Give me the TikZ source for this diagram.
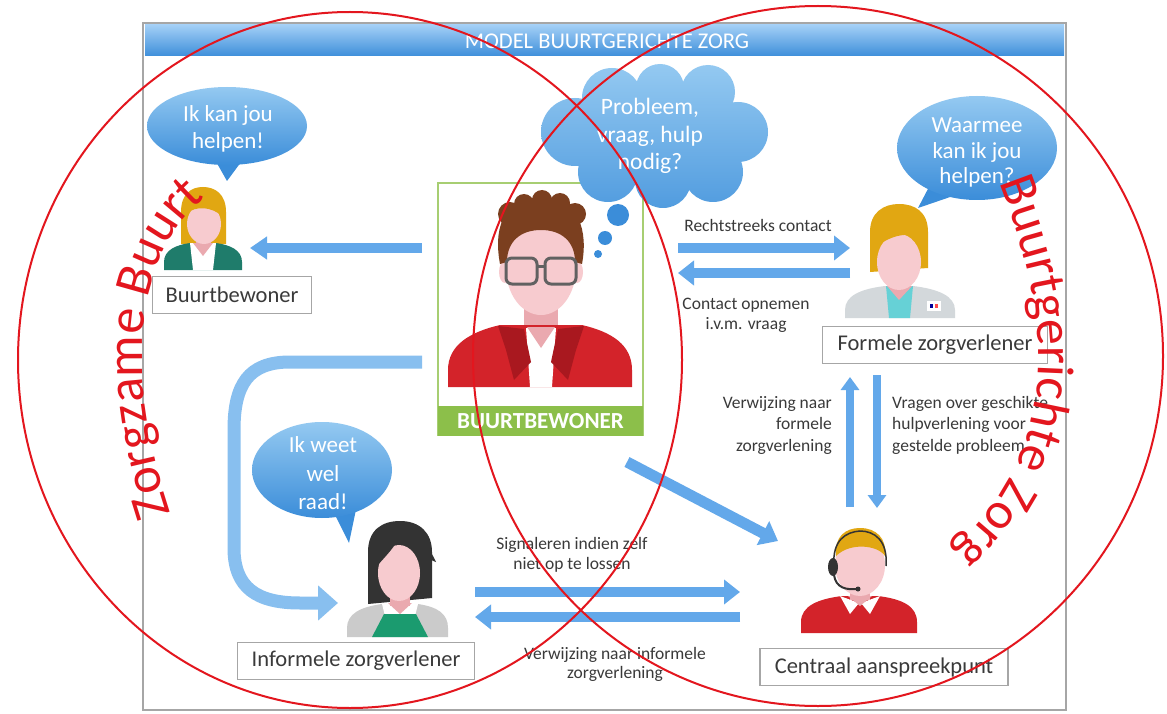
\documentclass[tikz,border=0pt]{standalone}
\usepackage{fontspec}
\setmainfont{Carlito}
\usetikzlibrary{arrows.meta,decorations.text}

\definecolor{framegray}{HTML}{A6A6A6}
\definecolor{headtop}{HTML}{A3CFF6}
\definecolor{headbot}{HTML}{3E8FDA}
\definecolor{arrowblue}{HTML}{63A8EA}
\definecolor{arrowlight}{HTML}{88BFEF}
\definecolor{bubtop}{HTML}{94C9F1}
\definecolor{bubbot}{HTML}{3B8DD9}
\definecolor{boxgreen}{HTML}{8CBF4A}
\definecolor{boxline}{HTML}{A7CE72}
\definecolor{circred}{HTML}{E3161E}
\definecolor{skin}{HTML}{F7CBCF}
\definecolor{necktone}{HTML}{EAA9AF}
\definecolor{hairgold}{HTML}{E1A712}
\definecolor{hairbrown}{HTML}{7B3F1F}
\definecolor{hairdark}{HTML}{333333}
\definecolor{jacketred}{HTML}{D3232A}
\definecolor{lapelred}{HTML}{A9181F}
\definecolor{cardteal}{HTML}{1F7C6B}
\definecolor{coatgray}{HTML}{D3D8DB}
\definecolor{shirtcyan}{HTML}{66D1D6}
\definecolor{apron}{HTML}{1B9B6F}
\definecolor{cardigan}{HTML}{CBCBCB}
\definecolor{txtgray}{HTML}{3A3A3A}

\tikzset{
  labelbox/.style={draw=framegray, line width=1.2pt, fill=white, minimum height=37pt,
    inner xsep=6pt, font=\fontsize{22.5}{27}\selectfont, text=txtgray},
  note/.style={font=\fontsize{17.5}{21.5}\selectfont, text=txtgray, align=center, inner sep=0pt},
  saytext/.style={font=\fontsize{23}{27}\selectfont, text=white, align=center, inner sep=0pt},
  flow/.style={draw=arrowblue, line width=10pt, -{Triangle[length=16pt,width=24pt]}},
  thinflow/.style={draw=arrowblue, line width=8pt, -{Triangle[length=13pt,width=18pt]}},
  ring/.style={draw=circred, line width=2pt},
  bubble/.style={top color=bubtop, bottom color=bubbot},
}

\begin{document}
\begin{tikzpicture}[x=1pt, y=-1pt]
\useasboundingbox (0,0) rectangle (1167,714);
\fill[white] (0,0) rectangle (1167,714);

% frame and header
\draw[framegray, line width=1.5pt] (143,23) rectangle (1066,710);
\shade[top color=headtop, bottom color=headbot] (145,25) rectangle (1064,56);
\node[text=white, font=\fontsize{22.5}{27}\selectfont] (title) at (607,41) {MODEL BUURTGERICHTE ZORG};

% central resident box
\node[draw=boxline, line width=1.5pt, minimum width=205pt, minimum height=252pt, inner sep=0pt] (hub) at (540.5,309) {};
\node[fill=boxgreen, minimum width=205pt, minimum height=30pt, inner sep=0pt, text=white,
  font=\fontsize{23}{27}\selectfont\bfseries] (hubname) at (540.5,421) {BUURTBEWONER};

% label boxes
\node[labelbox, minimum width=159pt] (neighbour) at (232,295) {Buurtbewoner};
\node[labelbox, minimum width=225pt] (formal) at (935,345) {Formele zorgverlener};
\node[labelbox, minimum width=237pt] (informal) at (356,661) {Informele zorgverlener};
\node[labelbox, minimum width=248pt] (central) at (884,667) {Centraal aanspreekpunt};

% connector labels
\node[note] (lbl1) at (758,225) {Rechtstreeks contact};
\node[note, font=\fontsize{17.5}{20}\selectfont] (lbl2) at (746,315) {Contact opnemen\\i.v.m. vraag};
\node[note, align=right, anchor=east] (lbl3) at (832,425) {Verwijzing naar\\formele\\zorgverlening};
\node[note, align=left, anchor=west] (lbl4) at (892,425) {Vragen over geschikte\\hulpverlening voor\\gestelde probleem};
\node[note, font=\fontsize{17.5}{20}\selectfont] (lbl5) at (572,555) {Signaleren indien zelf\\niet op te lossen};
\node[note, font=\fontsize{17.5}{19}\selectfont] (lbl6) at (615,664) {Verwijzing naar informele\\zorgverlening};

% connector end points
\coordinate (a1s) at (422,248);  \coordinate (a1e) at (250,248);
\coordinate (a2s) at (678,248);  \coordinate (a2e) at (850,248);
\coordinate (a3s) at (850,273);  \coordinate (a3e) at (678,273);
\coordinate (a4s) at (850,507);  \coordinate (a4e) at (850,377);
\coordinate (a5s) at (877,375);  \coordinate (a5e) at (877,508);
\coordinate (a6s) at (627,462);  \coordinate (a6e) at (778,541);
\coordinate (a7s) at (475,592);  \coordinate (a7e) at (740,592);
\coordinate (a8s) at (740,617);  \coordinate (a8e) at (475,617);
\coordinate (a9s) at (422,362);  \coordinate (a9e) at (338,603);

\draw[flow, line width=10pt, -{Triangle[length=17pt,width=22pt]}] (a1s) -- (a1e);
\draw[flow] (a2s) -- (a2e);
\draw[flow] (a3s) -- (a3e);
\draw[thinflow] (a4s) -- (a4e);
\draw[thinflow] (a5s) -- (a5e);
\draw[flow, line width=11pt, -{Triangle[length=17pt,width=26pt]}] (a6s) -- (a6e);
\draw[flow] (a7s) -- (a7e);
\draw[flow] (a8s) -- (a8e);
\draw[draw=arrowlight, line width=13pt, -{Triangle[length=20pt,width=34pt]}]
  (a9s) -- (290,362) .. controls (248,362) and (234,385) .. (234,430)
  -- (234,548) .. controls (234,588) and (257,603) .. (300,603) -- (a9e);

% neighbour figure
\fill[hairgold] (181,244) -- (181,212) .. controls (181,194) and (191,187) .. (203,187)
  .. controls (215,187) and (226,194) .. (226,212) -- (226,244) -- cycle;
\fill[cardteal] (164,270) -- (164,262) .. controls (164,250) and (176,245) .. (190,243)
  -- (216,243) .. controls (230,245) and (242,250) .. (242,262) -- (242,270) -- cycle;
\fill[white] (190,243) -- (216,243) -- (213,270) -- (193,270) -- cycle;
\fill[necktone] (196,230) rectangle (211,245);
\fill[necktone] (193,243) -- (213,243) -- (203,256) -- cycle;
\fill[skin] (204,224) ellipse [x radius=17, y radius=20];
\fill[hairgold] (186,214) .. controls (186,199) and (196,194) .. (206,195)
  .. controls (215,196) and (222,203) .. (222,216) .. controls (212,207) and (196,205) .. (186,214) -- cycle;

% formal carer figure
\fill[hairgold] (870,272) -- (870,232) .. controls (870,212) and (884,204) .. (899,204)
  .. controls (915,204) and (928,212) .. (928,232) -- (928,268) -- cycle;
\fill[coatgray] (845,318) -- (845,310) .. controls (845,296) and (860,289) .. (885,286)
  -- (913,286) .. controls (938,289) and (955,296) .. (955,310) -- (955,318) -- cycle;
\fill[shirtcyan] (886,286) -- (913,286) -- (910,318) -- (889,318) -- cycle;
\fill[necktone] (890,270) rectangle (909,290);
\fill[necktone] (887,286) -- (912,286) -- (899,300) -- cycle;
\fill[skin] (899,262) ellipse [x radius=22, y radius=28];
\fill[hairgold] (877,246) .. controls (877,222) and (890,214) .. (902,214)
  .. controls (914,214) and (922,224) .. (922,240) .. controls (912,232) and (895,233) .. (877,246) -- cycle;
\fill[white] (927,301) rectangle (941,311);
\fill[blue!60!black] (930,304) rectangle (933,308);
\fill[red!70] (935,304) rectangle (938,308);

% resident figure
\fill[skin] (505,272) ellipse [x radius=6, y radius=11];
\fill[skin] (577,272) ellipse [x radius=6, y radius=11];
\fill[necktone] (524,298) rectangle (558,335);
\fill[jacketred] (448,387) -- (448,370) .. controls (448,345) and (470,332) .. (500,325)
  -- (582,325) .. controls (612,332) and (632,345) .. (632,370) -- (632,387) -- cycle;
\fill[white] (526,328) -- (556,328) -- (552,387) -- (530,387) -- cycle;
\fill[necktone] (527,327) -- (555,327) -- (541,348) -- cycle;
\fill[lapelred] (498,326) -- (524,329) -- (531,362) -- (514,380) -- (506,350) -- cycle;
\fill[lapelred] (584,326) -- (558,329) -- (551,362) -- (568,380) -- (576,350) -- cycle;
\fill[skin] (541,268) ellipse [x radius=35, y radius=47];
\fill[hairbrown] (500,264) .. controls (494,232) and (500,200) .. (540,197)
  .. controls (580,197) and (588,232) .. (582,264) -- (575,262)
  .. controls (575,242) and (562,230) .. (541,230) .. controls (520,230) and (507,242) .. (507,262) -- cycle;
\fill[hairbrown] (510,214) circle[radius=12] (524,204) circle[radius=10] (542,200) circle[radius=10]
  (560,203) circle[radius=10] (575,214) circle[radius=11];
\draw[txtgray!80, line width=3pt, rounded corners=6pt] (506,258) rectangle (537,284)
  (545,258) rectangle (576,284);
\draw[txtgray!80, line width=3pt] (537,266) -- (545,266);

% informal carer figure
\fill[hairdark] (368,604) -- (368,552) .. controls (368,530) and (382,521) .. (400,521)
  .. controls (420,521) and (432,533) .. (432,552) -- (432,598) -- cycle;
\fill[cardigan] (347,637) -- (347,628) .. controls (347,614) and (360,607) .. (382,604)
  -- (418,604) .. controls (438,607) and (448,614) .. (448,628) -- (448,637) -- cycle;
\fill[white] (382,604) -- (418,604) -- (414,620) -- (386,620) -- cycle;
\fill[apron] (384,614) -- (416,614) -- (428,637) -- (372,637) -- cycle;
\fill[necktone] (390,590) rectangle (410,606);
\fill[necktone] (388,603) -- (412,603) -- (400,614) -- cycle;
\fill[skin] (399,573) ellipse [x radius=21, y radius=28];
\fill[hairdark] (377,566) .. controls (376,540) and (388,532) .. (402,532)
  .. controls (418,532) and (428,545) .. (436,562) .. controls (420,556) and (405,545) .. (398,540)
  .. controls (392,550) and (384,558) .. (377,566) -- cycle;

% central contact figure
\fill[jacketred] (801,633) -- (801,622) .. controls (801,606) and (818,599) .. (842,596)
  -- (878,596) .. controls (902,599) and (917,606) .. (917,622) -- (917,633) -- cycle;
\fill[necktone] (850,585) rectangle (870,600);
\fill[white] (840,596) -- (859,603) -- (850,614) -- cycle;
\fill[white] (880,596) -- (861,603) -- (870,614) -- cycle;
\fill[necktone] (848,596) -- (872,596) -- (860,606) -- cycle;
\fill[skin] (860,565) ellipse [x radius=25, y radius=31];
\fill[hairgold] (836,556) .. controls (834,536) and (846,528) .. (860,528)
  .. controls (876,528) and (887,538) .. (885,556) .. controls (878,545) and (850,542) .. (836,556) -- cycle;
\draw[hairdark, line width=1.5pt] (834,566) .. controls (832,540) and (846,532) .. (860,531)
  .. controls (874,531) and (888,540) .. (886,566);
\fill[hairdark] (833,567) ellipse [x radius=5, y radius=9];
\draw[hairdark, line width=2pt] (834,575) .. controls (836,588) and (846,590) .. (857,589);
\fill[hairdark] (858,589) circle[radius=2.5];

% speech bubbles
\fill[bubbot] (214,158) -- (227,181) -- (244,158) -- cycle;
\shade[bubble] (227,126) ellipse [x radius=80, y radius=39];
\node[saytext] (say1) at (228,128.5) {Ik kan jou\\helpen!};

\fill[bubbot] (930,185) -- (918,208) -- (956,195) -- cycle;
\shade[bubble] (977,148) ellipse [x radius=80, y radius=52];
\node[saytext, font=\fontsize{23}{25.5}\selectfont] (say2) at (977,152.5) {Waarmee\\kan ik jou\\helpen?};

\fill[bubbot] (330,505) -- (349,543) -- (358,500) -- cycle;
\shade[bubble] (322,470) ellipse [x radius=70, y radius=48];
\node[saytext, font=\fontsize{23}{28.5}\selectfont] (say3) at (323,473.5) {Ik weet\\wel\\raad!};

% thought cloud
\shade[top color=bubtop, bottom color=bubbot!75!bubtop]
  (575,132) circle[radius=34] (612,98) circle[radius=30] (660,88) circle[radius=24]
  (708,92) circle[radius=27] (738,132) circle[radius=30] (713,172) circle[radius=30]
  (663,180) circle[radius=28] (608,172) circle[radius=30]
  (655,135) ellipse [x radius=85, y radius=48];
\node[saytext, font=\fontsize{23.5}{27.5}\selectfont] (think) at (650,136) {Probleem,\\vraag, hulp\\nodig?};
\fill[bubbot] (618,215) circle[radius=11];
\fill[bubbot] (605,238) circle[radius=7];
\fill[bubbot] (598,254) circle[radius=4];

% overlapping domains
\draw[ring] (350,360) ellipse [x radius=332, y radius=348];
\draw[ring] (818,356) ellipse [x radius=345, y radius=350];

\path[decorate, decoration={text along path, text align=center,
  text={|\fontsize{52}{52}\selectfont\color{circred}|Zorgzame Buurt}}]
  (178,534) .. controls (130,400) and (117,257) .. (222,184);
\path[decorate, decoration={text along path, text align=center,
  text={|\fontsize{52}{52}\selectfont\color{circred}|Buurtgerichte Zorg}}]
  (1002,190) .. controls (1051,320) and (1063,440) .. (958,545);
\end{tikzpicture}
\end{document}
